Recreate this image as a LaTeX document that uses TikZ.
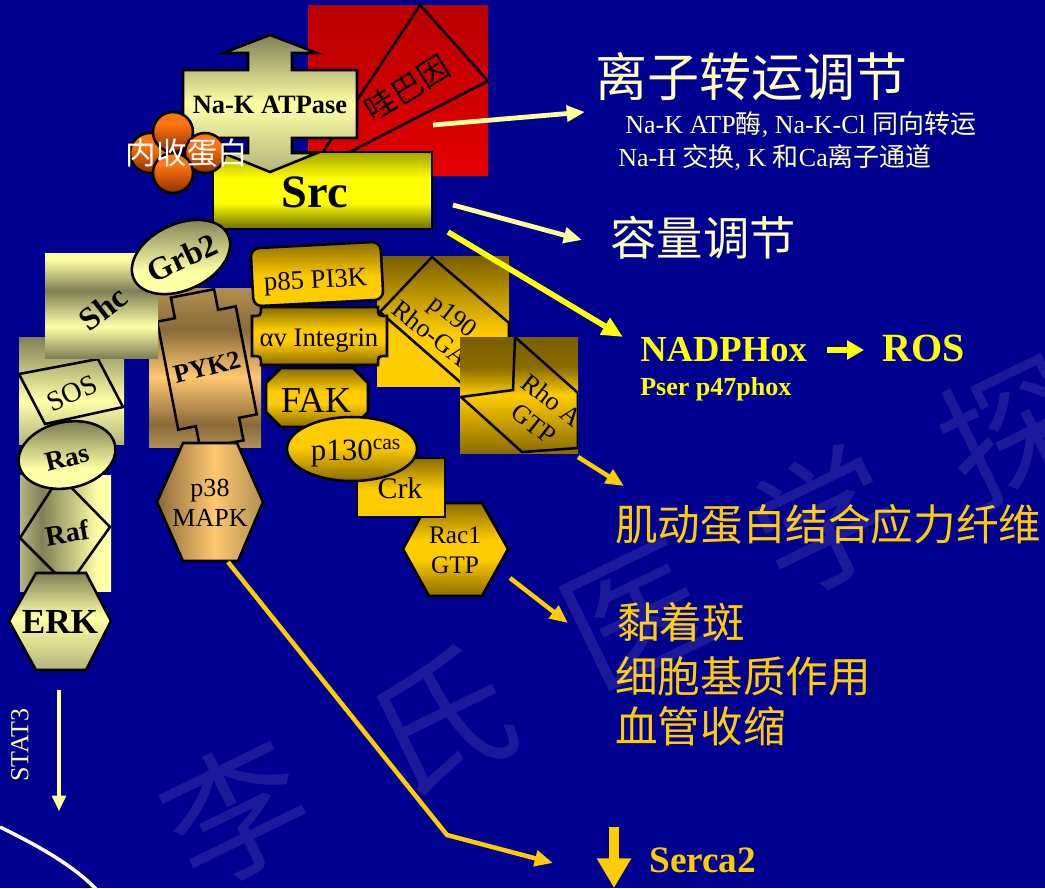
\documentclass[tikz,border=0pt]{standalone}
\usepackage{fontspec}
\setmainfont{Liberation Serif}
\newfontfamily\cjk{Noto Sans CJK SC}
\usetikzlibrary{arrows.meta}

% ---------- colours ----------
\definecolor{bgblue}{HTML}{000090}
\definecolor{cream}{HTML}{FFFFB8}
\definecolor{paleyel}{HTML}{FFFF99}
\definecolor{brightyel}{HTML}{FFFF00}
\definecolor{gold}{HTML}{FFCC00}
\definecolor{golddk}{HTML}{8A6C00}
\definecolor{goldtop}{HTML}{7A5E00}
\definecolor{olivelt}{HTML}{FFFFA6}
\definecolor{olivedk}{HTML}{808055}
\definecolor{olivemd}{HTML}{B4B47C}
\definecolor{tanlt}{HTML}{FFC870}
\definecolor{tandk}{HTML}{8A6A38}
\definecolor{tanmd}{HTML}{B09050}
\definecolor{srctop}{HTML}{A4A400}
\definecolor{srcdk}{HTML}{6C6C00}
\definecolor{redhi}{HTML}{B80000}
\definecolor{redlo}{HTML}{E40000}
\definecolor{ballhi}{HTML}{FF7410}
\definecolor{balllo}{HTML}{8E3000}

% ---------- shadings (25bp = lower/left edge of the path, 75bp = upper/right edge) ----------
\pgfdeclareverticalshading{redsh}{100bp}{color(0bp)=(redlo); color(25bp)=(redlo); color(75bp)=(redhi); color(100bp)=(redhi)}
\pgfdeclareverticalshading{srcsh}{100bp}{color(0bp)=(srcdk); color(25bp)=(srcdk); color(42bp)=(brightyel); color(58bp)=(brightyel); color(75bp)=(srctop); color(100bp)=(srctop)}
\pgfdeclareverticalshading{naksh}{100bp}{color(0bp)=(olivemd); color(25bp)=(olivemd); color(50bp)=(olivelt); color(75bp)=(olivedk); color(100bp)=(olivedk)}
\pgfdeclareverticalshading{ballsh}{100bp}{color(0bp)=(balllo); color(25bp)=(balllo); color(60bp)=(ballhi); color(100bp)=(ballhi)}
\pgfdeclareverticalshading{shcsh}{100bp}{color(0bp)=(olivedk); color(25bp)=(olivedk); color(40bp)=(olivelt); color(57bp)=(olivedk); color(72bp)=(olivelt); color(100bp)=(olivelt)}
\pgfdeclareverticalshading{lightbottom}{100bp}{color(0bp)=(olivelt); color(25bp)=(olivelt); color(42bp)=(olivelt); color(75bp)=(olivedk); color(100bp)=(olivedk)}
\pgfdeclareverticalshading{sossh}{100bp}{color(0bp)=(olivemd); color(25bp)=(olivemd); color(45bp)=(olivelt); color(75bp)=(olivedk); color(100bp)=(olivedk)}
\pgfdeclarehorizontalshading{rafsh}{100bp}{color(0bp)=(olivemd); color(25bp)=(olivemd); color(37bp)=(olivedk); color(68bp)=(olivelt); color(100bp)=(olivelt)}
\pgfdeclareverticalshading{erksh}{100bp}{color(0bp)=(olivemd); color(25bp)=(olivemd); color(52bp)=(olivelt); color(75bp)=(olivedk); color(100bp)=(olivedk)}
\pgfdeclareverticalshading{pyksh}{100bp}{color(0bp)=(tanmd); color(25bp)=(tanmd); color(32bp)=(tandk); color(47bp)=(tanlt); color(62bp)=(tandk); color(75bp)=(tanmd); color(100bp)=(tanmd)}
\pgfdeclarehorizontalshading{p38sh}{100bp}{color(0bp)=(tandk); color(25bp)=(tandk); color(52bp)=(tanlt); color(75bp)=(tanmd); color(100bp)=(tanmd)}
\pgfdeclareverticalshading{goldTB}{100bp}{color(0bp)=(gold); color(25bp)=(gold); color(48bp)=(gold); color(75bp)=(golddk); color(100bp)=(golddk)}
\pgfdeclareverticalshading{goldMid}{100bp}{color(0bp)=(golddk); color(25bp)=(golddk); color(45bp)=(gold); color(55bp)=(gold); color(75bp)=(golddk); color(100bp)=(golddk)}
\pgfdeclareverticalshading{goldBT}{100bp}{color(0bp)=(golddk); color(25bp)=(golddk); color(52bp)=(gold); color(75bp)=(gold); color(100bp)=(gold)}
\pgfdeclareverticalshading{p190sh}{100bp}{color(0bp)=(gold); color(25bp)=(gold); color(45bp)=(gold); color(75bp)=(goldtop); color(100bp)=(goldtop)}
\pgfdeclareverticalshading{rhoash}{100bp}{color(0bp)=(golddk); color(25bp)=(golddk); color(50bp)=(gold); color(62bp)=(golddk); color(75bp)=(goldtop); color(100bp)=(goldtop)}

\newcommand\fsz[2]{\fontsize{#1pt}{#2pt}\selectfont}

\tikzset{
  outline/.style={draw=black, line width=1.8pt},
  lbl/.style={inner sep=0pt, text=black},
  rtext/.style={inner sep=0pt, anchor=west},
  paleArrow/.style={draw=paleyel, line width=3.4pt, -{Triangle[length=13pt,width=11pt]}},
  yelArrow/.style={draw=brightyel, line width=4pt, -{Triangle[length=15pt,width=13pt]}},
  goldArrow/.style={draw=gold, line width=3.2pt, line join=round, -{Triangle[length=13pt,width=11pt]}},
  watermark/.style={inner sep=0pt, text=white, text opacity=0.1, rotate=26, font=\cjk\fsz{100}{110}},
}

\begin{document}
\begin{tikzpicture}[x=0.025cm, y=-0.025cm]
% canvas
\fill[bgblue] (0,0) rectangle (1045,888);
\useasboundingbox (0,0) rectangle (1045,888);

% rim of the nucleus
\draw[white, line width=2.5pt] (0,827) .. controls (30,842) and (70,862) .. (97,890);

% ouabain on its red panel
\shade[shading=redsh] (308,5) rectangle (488,175);
\draw[outline] (420,5) -- (488,81) -- (309,173) -- cycle;
\node[lbl, rotate=32, font=\cjk\fsz{22}{26}] (ouabain) at (407,88) {哇巴因};

% Src and the pump above it
\shade[shading=srcsh, outline] (213,152) rectangle (432,229);
\shade[shading=naksh, outline] (270,35) -- (317,53) -- (292,53) -- (292,70) -- (357,70) -- (357,138) -- (292,138) -- (292,153) -- (317,153) -- (270,172) -- (223,153) -- (248,153) -- (248,138) -- (183,138) -- (183,70) -- (248,70) -- (248,53) -- (223,53) -- cycle;
\node[lbl, anchor=base, font=\bfseries\fsz{33}{38}] (src) at (315,207) {Src};
\node[lbl, anchor=base, font=\bfseries\fsz{18.8}{22}] (nak) at (270,113) {Na-K ATPase};

% adducin cluster
\foreach \bx/\by in {150/153, 173/132, 205/153, 173/173}
  \shade[shading=ballsh, outline] (\bx,\by) circle[radius=20];
\node[lbl, text=white, font=\cjk\fsz{21.7}{26}] (adducin) at (187,153) {内收蛋白};

% PYK2 and p38
\shade[shading=pyksh] (149,288) rectangle (261,447);
\begin{scope}[shift={(207,368)}, rotate=11]
  \draw[outline] (-22,-76) -- (22,-76) -- (22,-55) -- (40,-55) -- (40,55) -- (22,55) -- (22,78) -- (-22,78) -- (-22,55) -- (-40,55) -- (-40,-55) -- (-22,-55) -- cycle;
\end{scope}
\node[lbl, rotate=14, font=\bfseries\fsz{18.5}{22}] (pyk2) at (207,367) {PYK2};
\shade[shading=p38sh, outline] (157,502) -- (183,443) -- (237,443) -- (263,502) -- (238,561) -- (183,561) -- cycle;
\node[lbl, align=center, font=\fsz{18.5}{21.5}] (p38) at (210,503) {p38\\MAPK};

% SOS, Raf, ERK, Ras
\shade[shading=sossh] (19,337) rectangle (124,444);
\draw[outline] (19,374) -- (98,359) -- (123,407) -- (45,424) -- cycle;
\node[lbl, rotate=25, font=\fsz{20}{24}] (sos) at (72,393) {SOS};
\shade[shading=rafsh] (20,475) rectangle (111,591);
\draw[outline] (20,538) -- (60,476) -- (110,527) -- (68,586) -- cycle;
\node[lbl, rotate=10, font=\bfseries\fsz{20}{24}] (raf) at (67,533) {Raf};
\shade[shading=erksh, outline] (9,621) -- (36,573) -- (86,573) -- (111,621) -- (86,670) -- (36,670) -- cycle;
\node[lbl, anchor=base, font=\bfseries\fsz{25}{30}] (erk) at (60,633) {ERK};
\shade[shading=lightbottom, outline, rotate around={12:(67,455)}] (67,455) ellipse[x radius=49, y radius=33];
\node[lbl, rotate=14, font=\bfseries\fsz{19.5}{24}] (ras) at (67,458) {Ras};

% Shc and Grb2
\shade[shading=shcsh] (45,253) rectangle (158,358);
\node[lbl, rotate=38, font=\bfseries\fsz{23}{27}] (shc) at (103,308) {Shc};
\shade[shading=lightbottom, outline, rotate around={25:(181,257)}] (181,257) ellipse[x radius=52, y radius=33];
\node[lbl, rotate=25, font=\bfseries\fsz{23}{27}] (grb2) at (182,258) {Grb2};

% p190 Rho-GAP and Rho A
\shade[shading=p190sh] (377,256) rectangle (509,386);
\draw[outline] (432,257) -- (509,323) -- (509,360) -- (475,395) -- (380,312) -- cycle;
\node[lbl, rotate=-38, align=center, font=\fsz{18.5}{20}] (p190) at (445,327) {p190\\Rho-GAP};
\shade[shading=rhoash] (460,337) rectangle (578,453);
\begin{scope}
  \clip (460,337) rectangle (578,453);
  \draw[outline] (515,337) -- (578,393) -- (578,448) -- (522,452) -- (461,397) -- (513,390) -- cycle;
  \node[lbl, rotate=-38, align=center, font=\fsz{18.5}{21}] (rhoa) at (543,412) {Rho A\\GTP};
\end{scope}

% PI3K, integrin and the focal adhesion chain
\begin{scope}[rotate around={3:(317,274)}]
  \shade[shading=goldTB, outline, rounded corners=6pt] (252,245) rectangle (382,303);
\end{scope}
\node[lbl, anchor=base, rotate=3, font=\fsz{19}{23}] (p85) at (316,288) {p85 PI3K};
\shade[shading=goldMid, outline] (261,307) -- (378,307) .. controls (378,316) .. (387,316) -- (387,356) .. controls (378,356) .. (378,365) -- (261,365) .. controls (261,356) .. (252,356) -- (252,316) .. controls (261,316) .. (261,307) -- cycle;
\node[lbl, anchor=base, font=\fsz{19}{23}] (integrin) at (319,346) {αv Integrin};
\shade[shading=goldMid, outline] (403,549) -- (428,503) -- (482,503) -- (508,549) -- (482,596) -- (429,596) -- cycle;
\node[lbl, align=center, font=\fsz{18}{21.5}] (rac1) at (455,550) {Rac1\\GTP};
\shade[shading=goldTB, outline] (357,458) rectangle (445,517);
\node[lbl, anchor=base, font=\fsz{21.3}{25}] (crk) at (400,498) {Crk};
\shade[shading=goldMid, outline] (281,368) -- (353,368) -- (368,383) -- (368,412) -- (353,427) -- (281,427) -- (266,412) -- (266,383) -- cycle;
\node[lbl, anchor=base, font=\fsz{26}{30}] (fak) at (316,412) {FAK};
\shade[shading=goldBT, outline] (352,449) ellipse[x radius=65, y radius=32];
\node[lbl, anchor=base, font=\fsz{22}{26}] (p130) at (356,460) {p130\textsuperscript{cas}};

% ---------- outcomes ----------
\node[rtext, text=cream, font=\cjk\fsz{37}{42}] (ionreg) at (595,77) {离子转运调节};
\node[rtext, anchor=base west, text=cream, font=\fsz{18.5}{22}] (ionlist1) at (625,133) {Na-K ATP{\cjk 酶}, Na-K-Cl {\cjk 同向转运}};
\node[rtext, anchor=base west, text=cream, font=\fsz{18.5}{22}] (ionlist2) at (618,166) {Na-H {\cjk 交换}, K {\cjk 和}Ca{\cjk 离子通道}};
\node[rtext, text=cream, font=\cjk\fsz{33}{38}] (volreg) at (610,238) {容量调节};
\node[rtext, anchor=base west, text=brightyel, font=\bfseries\fsz{26}{30}] (nadph) at (640,361) {NADPHox};
\node[rtext, anchor=base west, text=brightyel, font=\bfseries\fsz{28.5}{32}] (ros) at (882,361) {ROS};
\node[rtext, anchor=base west, text=brightyel, font=\bfseries\fsz{18.5}{22}] (p47) at (640,395) {Pser p47phox};
\node[rtext, text=gold, font=\cjk\fsz{30.3}{35}] (stress) at (615,524) {肌动蛋白结合应力纤维};
\node[rtext, text=gold, font=\cjk\fsz{30.3}{35}] (focal) at (617,622) {黏着斑};
\node[rtext, text=gold, font=\cjk\fsz{30.3}{35}] (matrix) at (615,676) {细胞基质作用};
\node[rtext, text=gold, font=\cjk\fsz{30.3}{35}] (vaso) at (615,726) {血管收缩};
\node[rtext, anchor=base west, text=gold, font=\bfseries\fsz{26.5}{30}] (serca) at (649,872) {Serca2};
\node[lbl, text=paleyel, rotate=90, font=\fsz{18.5}{22}] (stat3) at (20,745) {STAT3};

% ---------- connectors ----------
\coordinate (ionFrom) at (433,125);  \coordinate (ionTo) at (585,112);
\coordinate (volFrom) at (453,205);  \coordinate (volTo) at (582,240);
\coordinate (noxFrom) at (448,232);  \coordinate (noxTo) at (623,337);
\coordinate (rosFrom) at (827,350);  \coordinate (rosTo) at (864,350);
\coordinate (rhoFrom) at (578,457);  \coordinate (rhoTo) at (624,486);
\coordinate (racFrom) at (510,578);  \coordinate (racTo) at (568,623);
\coordinate (p38From) at (228,562);  \coordinate (sercaBend) at (447,835); \coordinate (sercaTo) at (553,863);
\coordinate (sercaTop) at (614,827); \coordinate (sercaTip) at (614,888);
\coordinate (statFrom) at (59,690);  \coordinate (statTo) at (59,811);

\draw[paleArrow] (ionFrom) -- (ionTo);
\draw[paleArrow] (volFrom) -- (volTo);
\draw[yelArrow] (noxFrom) -- (noxTo);
\draw[draw=brightyel, line width=4.5pt, -{Triangle[length=12pt,width=13pt]}] (rosFrom) -- (rosTo);
\draw[goldArrow] (rhoFrom) -- (rhoTo);
\draw[goldArrow] (racFrom) -- (racTo);
\draw[goldArrow] (p38From) -- (sercaBend) -- (sercaTo);
\draw[draw=gold, line width=7.8pt, -{Triangle[length=21pt,width=23pt]}] (sercaTop) -- (sercaTip);
\draw[draw=paleyel, line width=2.2pt, -{Triangle[length=11pt,width=10pt]}] (statFrom) -- (statTo);

% ---------- watermark ----------
\node[watermark] (wm1) at (236,812) {李};
\node[watermark] (wm2) at (440,721) {氏};
\node[watermark] (wm3) at (636,615) {医};
\node[watermark] (wm4) at (825,520) {学};
\node[watermark] (wm5) at (1012,430) {探};
\end{tikzpicture}
\end{document}
